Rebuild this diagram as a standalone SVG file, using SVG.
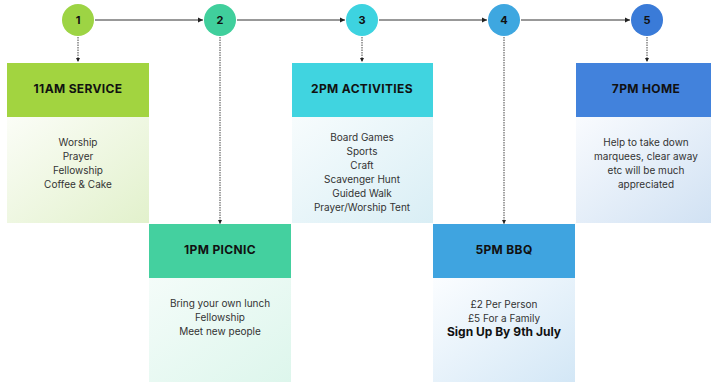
<svg xmlns="http://www.w3.org/2000/svg" width="711" height="382" viewBox="0 0 711 382">
<style>
.hd{font-family:Inter,"Liberation Sans",sans-serif;font-weight:700;font-size:12px;letter-spacing:0.35px;fill:#111;text-anchor:middle}
.num{font-family:Inter,"Liberation Sans",sans-serif;font-weight:700;font-size:11px;fill:#111;text-anchor:middle}
.bd{font-family:Inter,"Liberation Sans",sans-serif;font-size:10px;fill:#333;text-anchor:middle}
.bb{font-family:Inter,"Liberation Sans",sans-serif;font-weight:700;font-size:12px;fill:#111;text-anchor:middle}
.h{fill:none;stroke:#333;stroke-width:1}
.v{fill:none;stroke:#444;stroke-width:1;stroke-dasharray:1.5 1}
</style>
<defs>
<marker id="ah" markerWidth="6" markerHeight="6" refX="5" refY="3" orient="auto" markerUnits="userSpaceOnUse"><path d="M0,0.5 L5,3 L0,5.5 Z" fill="#222"/></marker>
<marker id="av" markerWidth="5" markerHeight="5" refX="4" refY="2.5" orient="auto" markerUnits="userSpaceOnUse"><path d="M0,0.5 L4,2.5 L0,4.5 Z" fill="#222"/></marker>
<linearGradient id="g1" x1="0" y1="0" x2="1" y2="1"><stop offset="0" stop-color="#fbfdf7"/><stop offset="1" stop-color="#e2f1cc"/></linearGradient>
<linearGradient id="g2" x1="0" y1="0" x2="1" y2="1"><stop offset="0" stop-color="#f4fcf9"/><stop offset="1" stop-color="#ddf6ec"/></linearGradient>
<linearGradient id="g3" x1="0" y1="0" x2="1" y2="1"><stop offset="0" stop-color="#f7fcfd"/><stop offset="1" stop-color="#d9eef5"/></linearGradient>
<linearGradient id="g4" x1="0" y1="0" x2="1" y2="1"><stop offset="0" stop-color="#fbfdff"/><stop offset="1" stop-color="#d3e7f6"/></linearGradient>
<linearGradient id="g5" x1="0" y1="0" x2="1" y2="1"><stop offset="0" stop-color="#f9fbfe"/><stop offset="1" stop-color="#d0e1f3"/></linearGradient>
</defs>
<rect width="711" height="382" fill="#fff"/>
<g id="connectors">
<line class="h" x1="95" y1="20" x2="203" y2="20" marker-end="url(#ah)"/>
<line class="h" x1="237" y1="20" x2="345" y2="20" marker-end="url(#ah)"/>
<line class="h" x1="379" y1="20" x2="487" y2="20" marker-end="url(#ah)"/>
<line class="h" x1="521" y1="20" x2="630" y2="20" marker-end="url(#ah)"/>
<line class="v" x1="78" y1="37" x2="78" y2="62" marker-end="url(#av)"/>
<line class="v" x1="220" y1="37" x2="220" y2="224" marker-end="url(#av)"/>
<line class="v" x1="362" y1="37" x2="362" y2="62" marker-end="url(#av)"/>
<line class="v" x1="504" y1="37" x2="504" y2="224" marker-end="url(#av)"/>
<line class="v" x1="647" y1="37" x2="647" y2="62" marker-end="url(#av)"/>
</g>
<g id="c1"><circle cx="78" cy="20" r="16" fill="#9dd444"/><text class="num" x="78" y="24">1</text></g>
<g id="c2"><circle cx="220" cy="20" r="16" fill="#40cf9c"/><text class="num" x="220" y="24">2</text></g>
<g id="c3"><circle cx="362" cy="20" r="16" fill="#3dd3e0"/><text class="num" x="362" y="24">3</text></g>
<g id="c4"><circle cx="504" cy="20" r="16" fill="#3ea7e0"/><text class="num" x="504" y="24">4</text></g>
<g id="c5"><circle cx="647" cy="20" r="16" fill="#3a7bd8"/><text class="num" x="647" y="24">5</text></g>
<g id="b1">
<rect x="7" y="63" width="142" height="54" fill="#a2d440"/>
<rect x="7" y="117" width="142" height="106" fill="url(#g1)"/>
<text class="hd" x="78" y="93">11AM SERVICE</text>
<text class="bd" x="78" y="145.5">Worship</text>
<text class="bd" x="78" y="159.5">Prayer</text>
<text class="bd" x="78" y="173.5">Fellowship</text>
<text class="bd" x="78" y="187.5">Coffee &amp; Cake</text>
</g>
<g id="b2">
<rect x="149" y="224" width="142" height="54" fill="#44d09f"/>
<rect x="149" y="278" width="142" height="104" fill="url(#g2)"/>
<text class="hd" x="220" y="253.5">1PM PICNIC</text>
<text class="bd" x="220" y="306.5">Bring your own lunch</text>
<text class="bd" x="220" y="320.5">Fellowship</text>
<text class="bd" x="220" y="335">Meet new people</text>
</g>
<g id="b3">
<rect x="292" y="63" width="141" height="54" fill="#40d4e0"/>
<rect x="292" y="117" width="141" height="106" fill="url(#g3)"/>
<text class="hd" x="362" y="93">2PM ACTIVITIES</text>
<text class="bd" x="362" y="140.5">Board Games</text>
<text class="bd" x="362" y="154.5">Sports</text>
<text class="bd" x="362" y="168.5">Craft</text>
<text class="bd" x="362" y="182.5">Scavenger Hunt</text>
<text class="bd" x="362" y="196.5">Guided Walk</text>
<text class="bd" x="362" y="210.5">Prayer/Worship Tent</text>
</g>
<g id="b4">
<rect x="433" y="224" width="142" height="54" fill="#3fa4e0"/>
<rect x="433" y="278" width="142" height="104" fill="url(#g4)"/>
<text class="hd" x="504" y="253.5">5PM BBQ</text>
<text class="bd" x="504" y="307.5">£2 Per Person</text>
<text class="bd" x="504" y="321.5">£5 For a Family</text>
<text class="bb" x="504" y="336">Sign Up By 9th July</text>
</g>
<g id="b5">
<rect x="576" y="63" width="141" height="54" fill="#4282dc"/>
<rect x="576" y="117" width="141" height="106" fill="url(#g5)"/>
<text class="hd" x="646" y="93">7PM HOME</text>
<text class="bd" x="646" y="145.5">Help to take down</text>
<text class="bd" x="646" y="159.5">marquees, clear away</text>
<text class="bd" x="646" y="173.5">etc will be much</text>
<text class="bd" x="646" y="187.5">appreciated</text>
</g>
</svg>
